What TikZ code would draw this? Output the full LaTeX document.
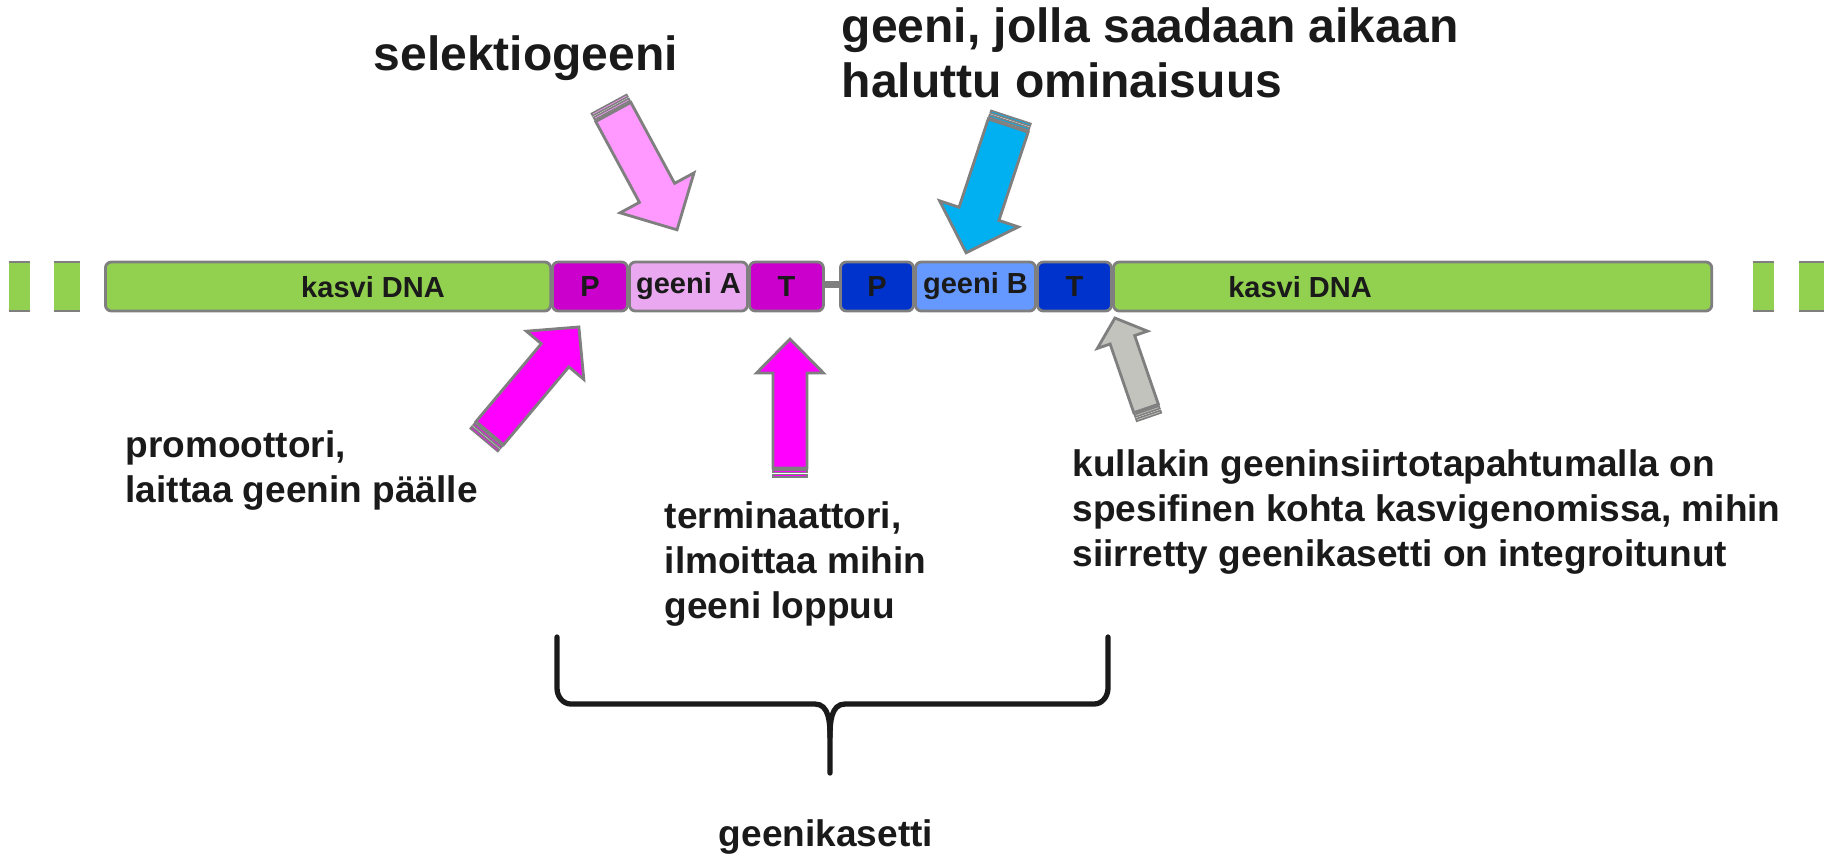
\documentclass[tikz,border=0pt]{standalone}
\usepackage{fontspec}
\setmainfont{Liberation Sans}
\usetikzlibrary{positioning}

\definecolor{dnagreen}{HTML}{92D050}
\definecolor{edgegray}{HTML}{7F7F7F}
\definecolor{promag}{HTML}{CC00CC}
\definecolor{genepink}{HTML}{EAA8F0}
\definecolor{problue}{HTML}{0033CC}
\definecolor{geneblue}{HTML}{6699FF}
\definecolor{arrowpink}{HTML}{FF99FF}
\definecolor{arrowmag}{HTML}{FF00FF}
\definecolor{arrowcyan}{HTML}{00B0F0}
\definecolor{arrowgray}{HTML}{C3C3BD}
\definecolor{inkblack}{HTML}{1A1A1A}

\tikzset{
  dnabar/.style={draw=edgegray, line width=0.8pt, rounded corners=0.06cm,
    minimum height=0.49cm, inner sep=0pt, anchor=west, text=inkblack,
    font=\fontsize{8.25pt}{10pt}\selectfont\bfseries},
  barlabel/.style={inner sep=0pt, text=inkblack,
    font=\fontsize{8.25pt}{10pt}\selectfont\bfseries},
  bodytext/.style={align=left, inner sep=0pt, text=inkblack,
    font=\fontsize{10.53pt}{12.8pt}\selectfont\bfseries},
  titletext/.style={align=left, inner sep=0pt, text=inkblack,
    font=\fontsize{13.66pt}{15.65pt}\selectfont\bfseries},
  bracket/.style={line width=1.5pt, line cap=round, inkblack},
}

% fill, tail x, tail y, angle, length, shaft half width, head half width, head length
\newcommand{\blockarrow}[8]{%
  \begin{scope}[shift={(#2,#3)}, rotate=#4, draw=edgegray, fill=#1]
    \filldraw[line width=0.45pt] (0,-#6) rectangle (2.5,#6);
    \filldraw[line width=0.45pt] (4.5,-#6) rectangle (7,#6);
    \filldraw[line width=0.8pt] (9,-#6) -- ({#5-#8},-#6) -- ({#5-#8},-#7) -- (#5,0)
      -- ({#5-#8},#7) -- ({#5-#8},#6) -- (9,#6) -- cycle;
  \end{scope}}

\begin{document}
\begin{tikzpicture}[x=0.01cm, y=-0.01cm]
  \useasboundingbox (0,0) rectangle (1827,859);

  % broken ends of the plant DNA
  \foreach \a/\b in {9/30, 54/80, 1753/1774, 1799/1824} {
    \fill[dnagreen] (\a,262) rectangle (\b,311);
    \draw[edgegray, line width=0.8pt] (\a,262) -- (\b,262) (\a,311) -- (\b,311);
  }

  % DNA with the cassette
  \node[dnabar, fill=dnagreen, minimum width=4.45cm] (dnaL) at (104,286.5) {};
  \node[barlabel] (dnaLtxt) at (373,287) {kasvi DNA};
  \node[dnabar, fill=promag, minimum width=0.75cm] (pA) at (551,286.5) {P};
  \node[dnabar, fill=genepink, minimum width=1.18cm] (geneA) at (628,286.5) {geeni A};
  \node[dnabar, fill=promag, minimum width=0.74cm] (tA) at (748,286.5) {T};
  \node[dnabar, fill=problue, minimum width=0.73cm] (pB) at (839,286.5) {P};
  \node[dnabar, fill=geneblue, minimum width=1.20cm] (geneB) at (914,286.5) {geeni B};
  \node[dnabar, fill=problue, minimum width=0.74cm] (tB) at (1036,286.5) {T};
  \node[dnabar, fill=dnagreen, minimum width=5.98cm] (dnaR) at (1112,286.5) {};
  \node[barlabel] (dnaRtxt) at (1300,287) {kasvi DNA};
  \draw[edgegray, line width=0.07cm] ([yshift=0.025cm]tA.east) -- ([yshift=0.025cm]pB.west);

  % block arrows
  \blockarrow{arrowpink}{609}{104}{-61.6}{143}{20}{42}{42}
  \blockarrow{arrowcyan}{1011}{117}{-108.3}{143}{21}{41.5}{41}
  \blockarrow{arrowmag}{484}{440}{50}{147.6}{18}{37.5}{37}
  \blockarrow{arrowmag}{790}{477}{90}{138}{17}{33.5}{34}
  \blockarrow{arrowgray}{1149}{417}{109}{104.7}{13}{26.5}{23}

  % texts
  \node[titletext, anchor=base west] (selLbl) at (373,70) {selektiogeeni};
  \node[titletext, anchor=north west] (traitLbl) at (841,7) {geeni, jolla saadaan aikaan\\haluttu ominaisuus};
  \node[bodytext, anchor=north west] (promLbl) at (125,430) {promoottori,\\laittaa geenin päälle};
  \node[bodytext, anchor=north west] (termLbl) at (664,501) {terminaattori,\\ilmoittaa mihin\\geeni loppuu};
  \node[bodytext, anchor=north west] (siteLbl) at (1072,449) {kullakin geeninsiirtotapahtumalla on\\spesifinen kohta kasvigenomissa, mihin\\siirretty geenikasetti on integroitunut};
  \node[bodytext, anchor=base] (cassLbl) at (826,846) {geenikasetti};

  % brace under the cassette
  \draw[bracket] (557,637) -- (557,688) to[out=-90, in=180] (571,704) -- (815,704)
    to[out=0, in=90] (830,737) -- (830,773);
  \draw[bracket] (1108,637) -- (1108,688) to[out=-90, in=0] (1094,704) -- (845,704)
    to[out=180, in=90] (830,737);
\end{tikzpicture}
\end{document}
